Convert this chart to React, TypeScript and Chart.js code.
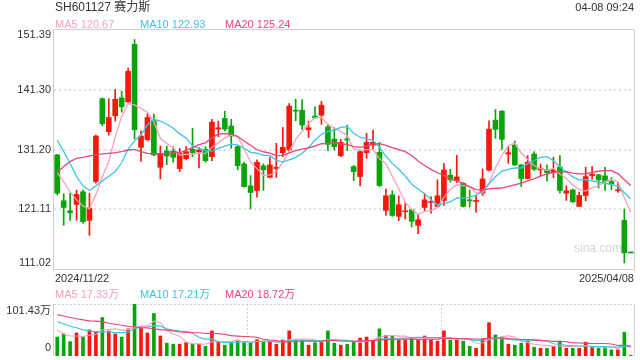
import React, { useEffect, useRef } from "react";
import { Chart, registerables } from "chart.js";

Chart.register(...registerables);

const title = "SH601127 赛力斯";
const stamp = "04-08 09:24";

const dates = [
  "2024/11/22", "2024/11/25", "2024/11/26", "2024/11/27", "2024/11/28", "2024/11/29",
  "2024/12/02", "2024/12/03", "2024/12/04", "2024/12/05", "2024/12/06", "2024/12/09", "2024/12/10", "2024/12/11",
  "2024/12/12", "2024/12/13", "2024/12/16", "2024/12/17", "2024/12/18", "2024/12/19", "2024/12/20", "2024/12/23",
  "2024/12/24", "2024/12/25", "2024/12/26", "2024/12/27", "2024/12/30", "2024/12/31",
  "2025/01/02", "2025/01/03", "2025/01/06", "2025/01/07", "2025/01/08", "2025/01/09", "2025/01/10", "2025/01/13",
  "2025/01/14", "2025/01/15", "2025/01/16", "2025/01/17", "2025/01/20", "2025/01/21", "2025/01/22", "2025/01/23",
  "2025/01/24", "2025/01/27",
  "2025/02/05", "2025/02/06", "2025/02/07", "2025/02/10", "2025/02/11", "2025/02/12", "2025/02/13", "2025/02/14",
  "2025/02/17", "2025/02/18", "2025/02/19", "2025/02/20", "2025/02/21", "2025/02/24", "2025/02/25", "2025/02/26",
  "2025/02/27", "2025/02/28",
  "2025/03/03", "2025/03/04", "2025/03/05", "2025/03/06", "2025/03/07", "2025/03/10", "2025/03/11", "2025/03/12",
  "2025/03/13", "2025/03/14", "2025/03/17", "2025/03/18", "2025/03/19", "2025/03/20", "2025/03/21", "2025/03/24",
  "2025/03/25", "2025/03/26", "2025/03/27", "2025/03/28", "2025/03/31",
  "2025/04/01", "2025/04/02", "2025/04/03", "2025/04/07", "2025/04/08",
];

const opens = [
  130.28, 122.54, 120.86, 121.92, 124.06, 119.23, 125.79, 139.8, 134.21, 136.9,
  139.92, 139.25, 148.95, 131.57, 132.86, 136.06, 128.21, 130.95, 130.95, 127.98,
  129.66, 131.23, 130.79, 131.23, 130.0, 134.65, 136.45, 135.16, 131.68, 128.77,
  125.06, 124.28, 128.43, 126.52, 127.98, 130.67, 131.12, 137.85, 137.85, 134.54,
  136.84, 137.0, 135.04, 132.97, 130.17, 133.03, 128.32, 126.63, 130.67, 131.96,
  130.73, 120.92, 123.55, 119.91, 120.69, 121.03, 118.39, 121.42, 122.26, 121.59,
  122.6, 126.86, 125.96, 125.51, 122.71, 122.43, 123.83, 127.7, 136.17, 137.68,
  130.45, 131.96, 128.6, 126.3, 130.45, 127.76, 127.76, 127.36, 128.26, 123.83,
  124.39, 121.59, 123.44, 126.8, 126.92, 126.75, 125.79, 124.23, 119.23, 113.74,
];
const highs = [
  130.4, 123.72, 123.83, 124.34, 124.34, 123.83, 133.64, 139.92, 139.8, 141.38,
  141.04, 144.97, 149.79, 134.37, 137.29, 137.18, 131.79, 131.79, 131.68, 131.4,
  131.68, 134.76, 131.51, 131.68, 136.28, 136.0, 137.68, 136.28, 131.85, 129.05,
  126.8, 129.44, 128.77, 129.83, 132.24, 134.93, 138.97, 139.7, 139.64, 136.0,
  138.41, 139.36, 135.33, 134.88, 132.92, 135.33, 128.49, 131.12, 133.92, 134.49,
  132.41, 124.51, 124.23, 123.38, 122.26, 121.14, 120.19, 123.83, 123.27, 126.08,
  128.88, 127.87, 130.22, 125.62, 124.39, 123.44, 127.92, 136.06, 137.96, 137.8,
  131.68, 132.64, 128.71, 130.17, 130.84, 128.77, 128.6, 129.89, 130.17, 125.06,
  124.51, 124.0, 128.21, 128.32, 127.03, 128.21, 126.47, 125.62, 121.14, 113.74,
];
const lows = [
  123.55, 118.39, 119.23, 119.23, 118.73, 116.71, 125.51, 135.21, 133.64, 136.0,
  137.51, 139.14, 132.97, 129.21, 132.64, 130.11, 126.24, 128.65, 129.05, 127.48,
  129.44, 130.0, 128.09, 129.05, 129.33, 133.36, 134.32, 131.4, 127.76, 124.84,
  121.2, 123.16, 124.28, 126.41, 126.47, 130.0, 130.84, 136.06, 134.6, 133.25,
  136.45, 135.44, 131.01, 131.12, 130.0, 131.01, 125.96, 125.06, 129.72, 131.29,
  124.95, 120.07, 119.91, 119.18, 119.46, 118.11, 116.99, 120.86, 120.47, 121.48,
  121.76, 125.68, 125.62, 121.48, 121.48, 120.64, 123.44, 127.59, 133.08, 131.23,
  128.88, 128.49, 124.95, 126.24, 127.64, 126.75, 125.91, 126.47, 123.83, 122.6,
  122.26, 121.59, 122.54, 126.19, 124.67, 124.28, 124.39, 123.94, 112.06, 113.74,
];
const closes = [
  123.83, 121.42, 120.52, 123.61, 119.01, 121.31, 133.48, 135.55, 136.61, 139.7,
  138.41, 144.41, 134.54, 133.48, 136.61, 130.28, 130.56, 130.11, 129.89, 130.56,
  130.84, 130.67, 131.12, 129.33, 135.83, 134.88, 134.65, 133.48, 128.49, 124.95,
  123.94, 129.05, 127.76, 128.6, 128.21, 131.57, 138.52, 137.68, 135.33, 134.88,
  136.56, 138.69, 132.07, 131.68, 132.41, 132.8, 127.48, 130.84, 132.41, 132.41,
  125.12, 123.38, 120.07, 121.87, 120.86, 119.07, 119.35, 122.71, 122.43, 123.38,
  127.76, 126.08, 126.58, 121.59, 122.54, 122.54, 126.24, 134.65, 134.6, 132.92,
  130.67, 128.6, 126.3, 129.05, 127.87, 127.98, 127.31, 127.81, 124.28, 124.23,
  122.37, 123.44, 126.63, 127.03, 126.08, 125.79, 125.35, 124.39, 113.74, 113.74,
];
// volume in 万 (10k shares)
const volumes = [
  37, 43, 28, 45, 37, 51, 48, 75, 49, 43,
  37, 53, 101.43, 57, 45, 83, 39, 25, 23, 23,
  26, 23, 23, 19, 49, 28, 21, 26, 31, 28,
  26, 32, 28, 28, 23, 31, 49, 31, 31, 21,
  26, 28, 49, 25, 21, 23, 28, 35, 37, 31,
  53, 40, 39, 31, 31, 35, 31, 39, 31, 29,
  49, 31, 31, 29, 19, 15, 33, 65, 41, 35,
  23, 21, 25, 29, 17, 15, 15, 19, 29, 15,
  15, 15, 27, 17, 15, 16, 12, 12, 46, 1.5,
];

// moving-average values before enough history is visible
const ma5Head = [127.3, 125.8, 124.0, 122.7];
const ma10Head = [132.8, 130.84, 128.88, 126.63, 125.06, 124.28, 125.06, 125.9, 126.7];
const ma20Head = [127.31, 128.32, 129.16, 129.72, 129.89, 130.11, 130.28, 130.45, 130.56, 130.67,
  130.84, 131.12, 131.23, 130.84, 130.56, 130.45, 130.45, 130.56, 130.67];
const vma5Head = [51, 43, 39, 39];
const vma10Head = [67, 63, 58, 55, 51, 49, 47, 47, 47];
const vma20Head = [80.7, 78, 75, 72.5, 70.5, 68.5, 68, 67, 64, 62, 60, 58, 56.5, 55, 54.5, 53, 51.5, 50.5, 49];

const priceTicks = [151.39, 141.3, 131.2, 121.11, 111.02];
const priceTickLabels = ["151.39", "141.30", "131.20", "121.11", "111.02"];
const volumeMax = 101.43;
const volumeTickLabels = ["101.43万", "0"];

const maLegend = ["MA5 120.67", "MA10 122.93", "MA20 125.24"];
const vmaLegend = ["MA5 17.33万", "MA10 17.21万", "MA20 18.72万"];

const UP = "#f4190b";
const DOWN = "#08a40a";
const C_MA5 = "#f7a0bd";
const C_MA10 = "#3ec5e3";
const C_MA20 = "#eb4479";
const FONT = "'Liberation Sans', Arial, 'Noto Sans CJK SC', sans-serif";

function movingAvg(src: number[], n: number, head: number[]) {
  return src.map((_, i) => {
    if (i < n - 1) return head[i];
    let s = 0;
    for (let k = i - n + 1; k <= i; k++) s += src[k];
    return s / n;
  });
}

const candleColors = closes.map((c, i) =>
  c > opens[i] ? UP : c < opens[i] ? DOWN : i > 0 && c <= closes[i - 1] ? DOWN : UP
);

const pricePlugin = {
  id: "pricePlugin",
  beforeDatasetsDraw(chart: any) {
    const { ctx, chartArea: a, scales } = chart;
    const y = scales.y;
    ctx.save();
    ctx.strokeStyle = "#e2e2e2";
    ctx.lineWidth = 2;
    ctx.setLineDash([2, 3]);
    priceTicks.slice(1, -1).forEach((v) => {
      const py = Math.round(y.getPixelForValue(v));
      ctx.beginPath();
      ctx.moveTo(a.left, py);
      ctx.lineTo(a.right, py);
      ctx.stroke();
    });
    ctx.setLineDash([]);
    ctx.lineWidth = 1;
    ctx.strokeStyle = "#cfcfcf";
    ctx.strokeRect(a.left - 0.5, a.top - 0.5, a.right - a.left + 1, a.bottom - a.top + 1);
    ctx.fillStyle = "#d4d4d4";
    ctx.font = `12px ${FONT}`;
    ctx.textAlign = "right";
    ctx.textBaseline = "middle";
    ctx.fillText("sina.com", a.right - 12, a.bottom - 20);
    ctx.restore();
  },
  afterDraw(chart: any) {
    const { ctx, scales } = chart;
    const y = scales.y;
    ctx.save();
    ctx.fillStyle = "#333";
    ctx.font = `11px ${FONT}`;
    ctx.textAlign = "right";
    ctx.textBaseline = "middle";
    priceTicks.forEach((v, i) => {
      let py = y.getPixelForValue(v);
      if (i === 0) py += 5;
      if (i === priceTicks.length - 1) py -= 6;
      ctx.fillText(priceTickLabels[i], 51, py);
    });
    ctx.restore();
  },
};

const volumePlugin = {
  id: "volumePlugin",
  beforeDatasetsDraw(chart: any) {
    const { ctx, chartArea: a, scales } = chart;
    const x = scales.x;
    ctx.save();
    ctx.strokeStyle = "#cfcfcf";
    ctx.lineWidth = 1;
    ctx.setLineDash([2, 2]);
    ctx.beginPath();
    ctx.moveTo(a.left, a.top + 0.5);
    ctx.lineTo(a.right, a.top + 0.5);
    ctx.stroke();
    [30, 60].forEach((k) => {
      const px = Math.round((x.getPixelForValue(k - 1) + x.getPixelForValue(k)) / 2) + 0.5;
      ctx.beginPath();
      ctx.moveTo(px, a.top);
      ctx.lineTo(px, a.bottom);
      ctx.stroke();
    });
    ctx.setLineDash([]);
    ctx.beginPath();
    ctx.moveTo(a.left - 0.5, a.top);
    ctx.lineTo(a.left - 0.5, a.bottom);
    ctx.moveTo(a.right + 0.5, a.top);
    ctx.lineTo(a.right + 0.5, a.bottom);
    ctx.stroke();
    ctx.restore();
  },
  afterDraw(chart: any) {
    const { ctx, scales } = chart;
    const y = scales.y;
    ctx.save();
    ctx.fillStyle = "#333";
    ctx.font = `11px ${FONT}`;
    ctx.textAlign = "right";
    ctx.textBaseline = "middle";
    ctx.fillText(volumeTickLabels[0], 51, y.getPixelForValue(volumeMax) + 7);
    ctx.fillText(volumeTickLabels[1], 51, y.getPixelForValue(0) - 8);
    ctx.restore();
  },
};

export default function App() {
  const priceRef = useRef<HTMLCanvasElement>(null);
  const volRef = useRef<HTMLCanvasElement>(null);

  useEffect(() => {
    const ma5 = movingAvg(closes, 5, ma5Head);
    const ma10 = movingAvg(closes, 10, ma10Head);
    const ma20 = movingAvg(closes, 20, ma20Head);
    const vma5 = movingAvg(volumes, 5, vma5Head);
    const vma10 = movingAvg(volumes, 10, vma10Head);
    const vma20 = movingAvg(volumes, 20, vma20Head);

    const line = (label: string, data: number[], color: string, w = 1.3) => ({
      type: "line" as const,
      label,
      data,
      borderColor: color,
      borderWidth: w,
      pointRadius: 0,
      fill: false,
      tension: 0,
      order: 0,
    });

    const priceChart = new Chart(priceRef.current!, {
      type: "bar",
      data: {
        labels: dates,
        datasets: [
          line("MA20", ma20, C_MA20),
          line("MA10", ma10, C_MA10),
          line("MA5", ma5, C_MA5),
          {
            type: "bar",
            label: "body",
            data: opens.map((o, i) => [o, closes[i]]),
            backgroundColor: candleColors,
            barThickness: 5,
            grouped: false,
            minBarLength: 1,
            order: 1,
          } as any,
          {
            type: "bar",
            label: "wick",
            data: lows.map((l, i) => [l, highs[i]]),
            backgroundColor: candleColors,
            barThickness: 1,
            grouped: false,
            order: 2,
          } as any,
        ],
      },
      options: {
        animation: false,
        responsive: false,
        devicePixelRatio: 1,
        layout: { padding: { left: 54, top: 30, right: 6, bottom: 11 } },
        scales: {
          x: { display: false },
          y: { display: false, min: priceTicks[priceTicks.length - 1], max: priceTicks[0] },
        },
        plugins: { legend: { display: false }, tooltip: { enabled: false } },
      },
      plugins: [pricePlugin],
    });

    const volChart = new Chart(volRef.current!, {
      type: "bar",
      data: {
        labels: dates,
        datasets: [
          line("MA20", vma20, C_MA20, 1.1),
          line("MA10", vma10, C_MA10, 1.1),
          line("MA5", vma5, C_MA5, 1.1),
          {
            type: "bar",
            label: "volume",
            data: volumes,
            backgroundColor: candleColors,
            barThickness: 3,
            order: 1,
          } as any,
        ],
      },
      options: {
        animation: false,
        responsive: false,
        devicePixelRatio: 1,
        layout: { padding: { left: 54, top: 24, right: 6, bottom: 4 } },
        scales: {
          x: { display: false },
          y: { display: false, min: 0, max: volumeMax },
        },
        plugins: { legend: { display: false }, tooltip: { enabled: false } },
      },
      plugins: [volumePlugin],
    });

    return () => {
      priceChart.destroy();
      volChart.destroy();
    };
  }, []);

  const txt = (extra: React.CSSProperties): React.CSSProperties => ({
    position: "absolute",
    fontFamily: FONT,
    fontSize: 11,
    lineHeight: "14px",
    whiteSpace: "nowrap",
    color: "#333",
    ...extra,
  });
  const legendX = [55, 140, 225];
  const legendC = [C_MA5, C_MA10, C_MA20];

  return (
    <div style={{ position: "fixed", left: 0, top: 0, width: 640, height: 360, background: "#fff", overflow: "hidden" }}>
      <canvas ref={priceRef} width={640} height={280} style={{ position: "absolute", left: 0, top: 0, width: 640, height: 280 }} />
      <canvas ref={volRef} width={640} height={80} style={{ position: "absolute", left: 0, top: 280, width: 640, height: 80 }} />
      <div style={txt({ left: 55, top: 0, fontSize: 12 })}>{title}</div>
      <div style={txt({ right: 6, top: 0 })}>{stamp}</div>
      {maLegend.map((t, i) => (
        <div key={"m" + i} style={txt({ left: legendX[i], top: 17, color: legendC[i] })}>{t}</div>
      ))}
      <div style={txt({ left: 55, top: 271 })}>{dates[0]}</div>
      <div style={txt({ right: 6, top: 271 })}>{dates[dates.length - 1]}</div>
      {vmaLegend.map((t, i) => (
        <div key={"v" + i} style={txt({ left: legendX[i], top: 287, color: legendC[i] })}>{t}</div>
      ))}
    </div>
  );
}
